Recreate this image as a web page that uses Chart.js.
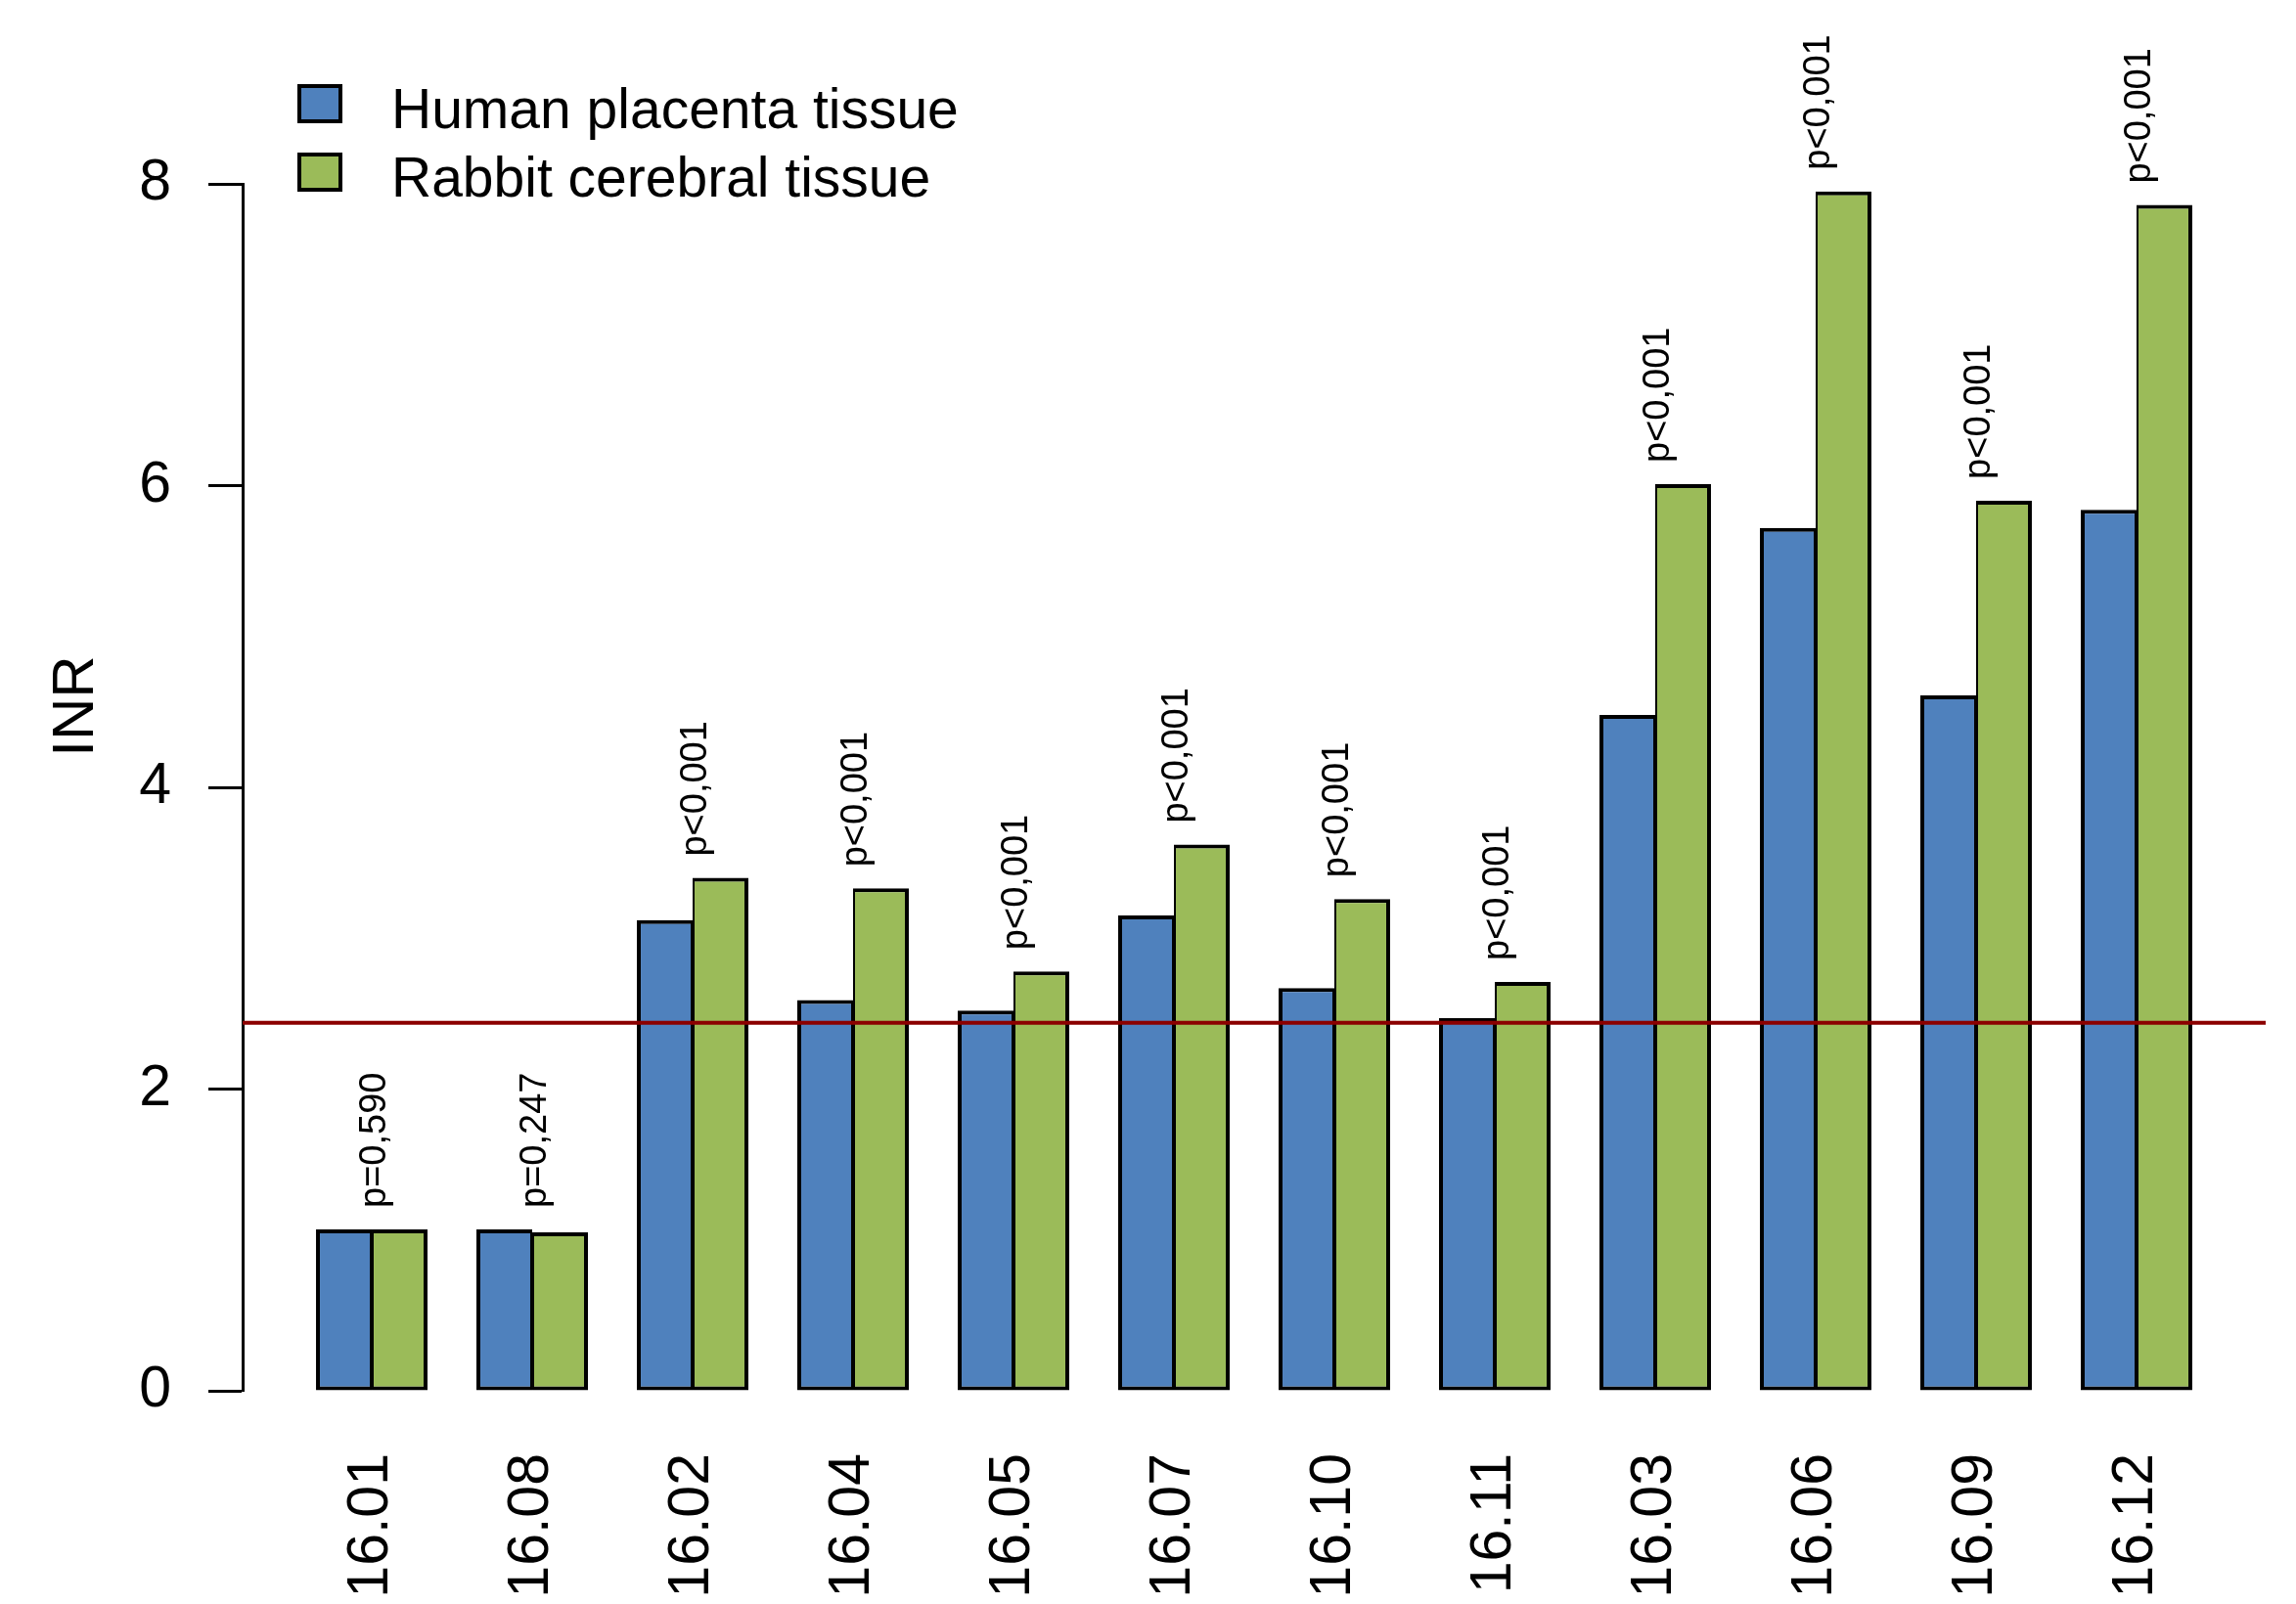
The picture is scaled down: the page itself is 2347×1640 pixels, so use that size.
<!DOCTYPE html>
<html>
<head>
<meta charset="utf-8">
<script src="https://cdn.jsdelivr.net/npm/chart.js@4"></script>
<style>
  html, body { margin: 0; padding: 0; background: #fff; }
  #wrap { width: 2347px; height: 1640px; }
</style>
</head>
<body>
<div id="wrap"><canvas id="chart" width="2347" height="1640"></canvas></div>
<script>
const samples = ["16.01", "16.08", "16.02", "16.04", "16.05", "16.07", "16.10", "16.11", "16.03", "16.06", "16.09", "16.12"];
const humanPlacenta = [1.07, 1.07, 3.12, 2.59, 2.52, 3.15, 2.67, 2.47, 4.48, 5.72, 4.61, 5.84];
const rabbitCerebral = [1.07, 1.05, 3.40, 3.33, 2.78, 3.62, 3.26, 2.71, 6.01, 7.95, 5.90, 7.86];
const pValues = ["p=0,590", "p=0,247", "p<0,001", "p<0,001", "p<0,001", "p<0,001", "p<0,001", "p<0,001", "p<0,001", "p<0,001", "p<0,001", "p<0,001"];
const yTicks = [0, 2, 4, 6, 8];
const refINR = 2.44;

const X_MIN = 0.195, X_MAX = 12.805;
const FONT = '"Liberation Sans", Arial, sans-serif';
const BLUE = '#4F81BD', GREEN = '#9BBB59';

const ctx = document.getElementById('chart').getContext('2d');

// legend, p-values and the y title drawn by hand (R-style layout)
const extras = {
  id: 'extras',
  afterDatasetsDraw(chart) {
    const c = chart.ctx;
    const x = chart.scales.x, y = chart.scales.y;
    c.save();
    c.fillStyle = '#000';

    // p-values above each pair
    c.font = '38px ' + FONT;
    c.textAlign = 'left';
    c.textBaseline = 'alphabetic';
    pValues.forEach((p, i) => {
      const top = Math.max(humanPlacenta[i], rabbitCerebral[i]);
      c.save();
      c.translate(x.getPixelForValue(i + 1) + 14, y.getPixelForValue(top) - 22);
      c.rotate(-Math.PI / 2);
      c.fillText(p, 0, 0);
      c.restore();
    });

    // y axis title
    c.font = '60px ' + FONT;
    c.textAlign = 'center';
    c.save();
    c.translate(95, 722);
    c.rotate(-Math.PI / 2);
    c.fillText('INR', 0, 0);
    c.restore();

    // legend
    c.font = '57px ' + FONT;
    c.textAlign = 'left';
    chart.data.datasets.filter(d => d.type !== 'line').forEach((d, i) => {
      const by = 88 + i * 70;
      c.fillStyle = d.backgroundColor;
      c.fillRect(306, by, 42, 36);
      c.strokeStyle = '#000';
      c.lineWidth = 4;
      c.strokeRect(306, by, 42, 36);
      c.fillStyle = '#000';
      c.fillText(d.label, 400, by + 43);
    });
    c.restore();
  }
};

new Chart(ctx, {
  type: 'bar',
  data: {
    datasets: [
      {
        type: 'line',
        label: 'reference',
        data: [{ x: X_MIN, y: refINR }, { x: X_MAX, y: refINR }],
        borderColor: '#8B0000',
        borderWidth: 4,
        pointRadius: 0,
        order: 0
      },
      {
        label: 'Human placenta tissue',
        data: humanPlacenta.map((v, i) => ({ x: i + 1, y: v })),
        backgroundColor: BLUE,
        borderColor: '#000',
        borderWidth: { top: 4, bottom: 4, left: 4, right: 2 },
        borderSkipped: false,
        order: 1
      },
      {
        label: 'Rabbit cerebral tissue',
        data: rabbitCerebral.map((v, i) => ({ x: i + 1, y: v })),
        backgroundColor: GREEN,
        borderColor: '#000',
        borderWidth: { top: 4, bottom: 4, left: 2, right: 4 },
        borderSkipped: false,
        order: 1
      }
    ]
  },
  options: {
    responsive: false,
    animation: false,
    categoryPercentage: 0.695,
    barPercentage: 1,
    layout: { padding: { left: 142, right: 31, top: 188, bottom: 0 } },
    plugins: {
      legend: { display: false },
      tooltip: { enabled: false }
    },
    scales: {
      x: {
        type: 'linear',
        offset: false,
        min: X_MIN,
        max: X_MAX,
        afterBuildTicks: s => { s.ticks = samples.map((_, i) => ({ value: i + 1 })); },
        afterFit: s => { s.height = 218; },
        grid: { display: false },
        border: { display: false },
        ticks: {
          autoSkip: false,
          minRotation: 90,
          maxRotation: 90,
          padding: 56,
          color: '#000',
          font: { family: FONT, size: 59 },
          callback: v => samples[v - 1]
        }
      },
      y: {
        min: 0,
        max: 8,
        afterBuildTicks: s => { s.ticks = yTicks.map(v => ({ value: v })); },
        afterFit: s => { s.width = 106; },
        border: { display: true, color: '#000', width: 3 },
        grid: {
          drawOnChartArea: false,
          drawTicks: true,
          tickLength: 35,
          tickWidth: 3,
          tickColor: '#000'
        },
        ticks: {
          padding: 38,
          color: '#000',
          font: { family: FONT, size: 59 }
        }
      }
    }
  },
  plugins: [extras]
});
</script>
</body>
</html>
